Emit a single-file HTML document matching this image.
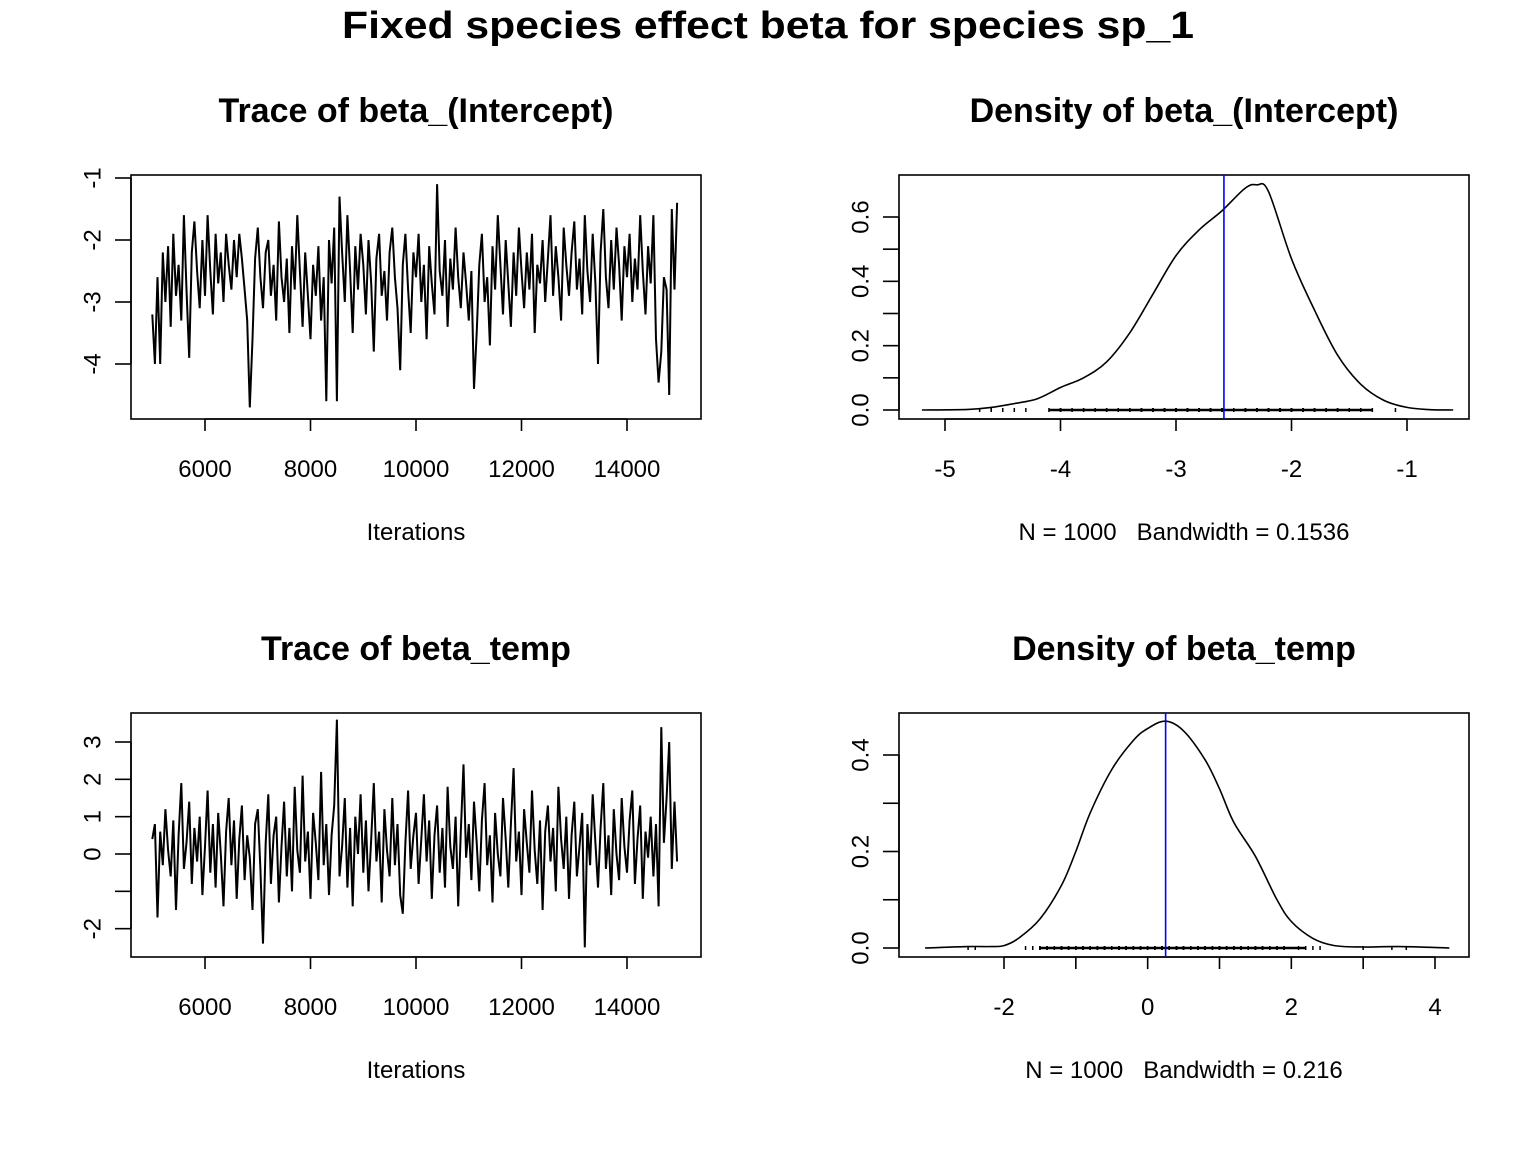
<!DOCTYPE html>
<html><head><meta charset="utf-8"><style>
html,body{margin:0;padding:0;background:#fff}
svg{display:block;font-family:"Liberation Sans",Arial,sans-serif}
</style></head><body>
<svg id="chart" width="1536" height="1152" viewBox="0 0 1536 1152" xmlns="http://www.w3.org/2000/svg">
<rect width="1536" height="1152" fill="#fff"/>
<text x="768" y="38" text-anchor="middle" font-size="38" font-weight="bold" textLength="852" lengthAdjust="spacingAndGlyphs">Fixed species effect beta for species sp_1</text>
</svg>
<script>
const iterStart = 5000, iterStep = 50;
const trace1 = [-3.2,-4.0,-2.6,-4.0,-2.2,-3.0,-2.1,-3.4,-1.9,-2.9,-2.4,-3.3,-1.6,-2.8,-3.9,-2.2,-1.7,-2.5,-3.1,-2.0,
-2.9,-1.6,-2.5,-3.2,-1.9,-2.7,-2.2,-3.0,-1.9,-2.4,-2.8,-2.0,-2.6,-1.9,-2.3,-2.8,-3.3,-4.7,-3.6,-2.3,
-1.8,-2.6,-3.1,-2.2,-2.0,-2.9,-2.4,-3.3,-1.7,-2.6,-3.0,-2.3,-3.5,-2.1,-2.8,-1.6,-2.5,-3.4,-2.2,-2.9,
-3.6,-2.4,-2.9,-2.1,-3.3,-2.6,-4.6,-2.0,-2.7,-1.8,-4.6,-1.3,-2.2,-3.0,-1.6,-2.5,-3.5,-2.1,-2.8,-1.9,
-2.4,-3.2,-2.0,-2.7,-3.8,-2.3,-1.9,-2.9,-2.5,-3.3,-2.2,-1.8,-2.6,-3.1,-4.1,-2.4,-1.9,-2.8,-3.5,-2.2,
-2.6,-1.9,-3.0,-2.4,-3.6,-2.1,-2.7,-3.2,-1.1,-2.5,-2.9,-2.0,-3.4,-2.3,-2.8,-1.8,-2.6,-3.1,-2.2,-2.7,
-3.3,-2.5,-4.4,-3.5,-2.4,-1.9,-3.0,-2.6,-3.7,-2.1,-2.8,-1.6,-2.4,-3.2,-2.0,-2.7,-3.4,-2.2,-2.9,-1.8,
-2.5,-3.1,-2.2,-2.8,-1.9,-3.5,-2.4,-2.7,-2.0,-3.0,-2.3,-1.6,-2.9,-2.1,-2.6,-3.3,-1.8,-2.4,-2.9,-2.2,
-1.7,-2.8,-2.3,-3.2,-1.6,-2.5,-3.0,-1.9,-2.7,-4.0,-2.2,-1.5,-2.6,-3.1,-2.0,-2.8,-1.8,-2.4,-3.3,-2.1,
-2.6,-1.9,-3.0,-2.3,-2.8,-1.6,-2.5,-3.2,-2.1,-2.7,-1.6,-3.6,-4.3,-3.8,-2.6,-2.8,-4.5,-1.5,-2.8,-1.4];
const trace2 = [0.4,0.8,-1.7,0.6,-0.3,1.2,0.1,-0.6,0.9,-1.5,0.5,1.9,-0.4,0.3,1.4,-0.8,0.7,-0.2,1.0,-1.1,
0.2,1.7,-0.5,0.8,-0.9,1.1,0.0,-1.4,0.6,1.5,-0.3,0.9,-1.2,0.4,1.3,-0.7,0.5,-0.1,-1.5,0.8,
1.2,-0.4,-2.4,0.3,1.6,-0.8,0.5,1.0,-1.3,0.2,1.4,-0.6,0.7,-1.0,1.8,0.1,-0.5,2.1,-0.2,0.6,
-1.2,1.1,0.3,-0.7,2.2,-0.3,0.8,-1.1,0.5,1.3,3.6,-0.6,0.2,1.5,-0.9,0.7,-1.4,1.0,0.0,1.6,
-0.5,0.9,-1.0,0.4,1.9,-0.2,0.6,-1.3,1.2,0.1,-0.6,1.5,-0.3,0.8,-1.1,-1.6,0.3,1.7,-0.4,0.5,
1.1,-0.8,0.4,1.6,-0.2,0.9,-1.2,0.5,1.3,-0.5,0.7,-0.9,1.8,0.2,-0.4,1.0,-1.4,0.6,2.4,-0.1,
0.8,-0.7,1.4,0.3,-1.0,0.9,1.9,-0.3,0.5,-1.3,1.1,0.0,-0.6,1.5,0.4,-0.9,0.8,2.3,-0.2,0.6,
-1.1,1.2,0.3,-0.5,1.7,0.1,-0.8,0.9,-1.5,0.6,1.3,-0.2,0.7,-1.0,1.8,0.4,-0.4,1.0,-1.2,0.5,
1.4,-0.6,0.2,1.1,-2.5,0.8,-0.3,1.6,0.3,-0.9,0.7,1.9,-0.4,0.5,-1.1,1.2,0.0,-0.7,1.5,0.2,
-0.5,0.9,1.7,-0.8,0.4,1.3,-1.2,0.6,-0.1,1.0,-0.6,0.8,-1.4,3.4,0.3,1.5,3.0,-0.4,1.4,-0.2];
const dens1X = [-5.2,-4.8,-4.6,-4.4,-4.2,-4.0,-3.8,-3.6,-3.4,-3.2,-3.0,-2.8,-2.6,-2.4,-2.3,-2.2,-2.0,-1.8,-1.6,-1.4,-1.2,-1.0,-0.8,-0.6];
const dens1Y = [0,0.002,0.008,0.02,0.035,0.07,0.1,0.15,0.24,0.36,0.48,0.56,0.62,0.69,0.70,0.68,0.47,0.31,0.17,0.08,0.03,0.008,0.001,0];
const dens2X = [-3.1,-2.5,-2.2,-2.0,-1.8,-1.5,-1.2,-1.0,-0.8,-0.5,-0.2,0.0,0.25,0.5,0.8,1.0,1.2,1.5,1.8,2.0,2.3,2.6,3.0,3.5,4.2];
const dens2Y = [0,0.003,0.003,0.005,0.02,0.06,0.13,0.2,0.28,0.37,0.43,0.455,0.47,0.45,0.39,0.33,0.26,0.19,0.1,0.055,0.02,0.005,0.002,0.003,0];
const mean1 = -2.585, mean2 = 0.25;
const traceXTicks = [6000,8000,10000,12000,14000];
const trace1YTicks = [-4,-3,-2,-1];
const trace2YTicks = [-2,-1,0,1,2,3];
const trace2YLabels = ["-2","","0","1","2","3"];
const dens1XTicks = [-5,-4,-3,-2,-1];
const dens1YTicks = [0,0.1,0.2,0.3,0.4,0.5,0.6];
const dens1YLabels = ["0.0","","0.2","","0.4","","0.6"];
const dens2XTicks = [-2,-1,0,1,2,3,4];
const dens2XLabels = ["-2","","0","","2","","4"];
const dens2YTicks = [0,0.1,0.2,0.3,0.4];
const dens2YLabels = ["0.0","","0.2","","0.4"];

const svg = document.getElementById('chart');
const NS = 'http://www.w3.org/2000/svg';
function mk(tag, attrs, parent){const e=document.createElementNS(NS,tag);for(const k in attrs)e.setAttribute(k,attrs[k]);(parent||svg).appendChild(e);return e;}
function lin(d0,d1,r0,r1){return v=>r0+(v-d0)*(r1-r0)/(d1-d0);}
function smoothPath(P){
  let d='M'+P[0][0].toFixed(1)+','+P[0][1].toFixed(1);
  for(let i=0;i<P.length-1;i++){
    const p0=P[Math.max(0,i-1)],p1=P[i],p2=P[i+1],p3=P[Math.min(P.length-1,i+2)];
    const c1=[p1[0]+(p2[0]-p0[0])/6,p1[1]+(p2[1]-p0[1])/6];
    const c2=[p2[0]-(p3[0]-p1[0])/6,p2[1]-(p3[1]-p1[1])/6];
    d+=` C${c1[0].toFixed(1)},${c1[1].toFixed(1)} ${c2[0].toFixed(1)},${c2[1].toFixed(1)} ${p2[0].toFixed(1)},${p2[1].toFixed(1)}`;
  }
  return d;
}

function panel(p){
  const g = mk('g',{});
  
  
  const t = mk('text',{x:(p.x0+p.x1)/2,y:p.y0-53,'text-anchor':'middle','font-size':34,'font-weight':'bold'},g);
  t.textContent = p.title;
  
  
  const box = mk('rect',{x:p.x0,y:p.y0,width:p.x1-p.x0,height:p.y1-p.y0,fill:'none',stroke:'#000','stroke-width':1.6},g);
  
  
  const xa = mk('g',{},g);
  
  
  mk('line',{x1:p.sx(p.xt[0]),x2:p.sx(p.xt[p.xt.length-1]),y1:p.y1,y2:p.y1,stroke:'#000','stroke-width':1.6},xa);
  p.xt.forEach((v,i)=>{
    const X=p.sx(v);
    mk('line',{x1:X,x2:X,y1:p.y1,y2:p.y1+12,stroke:'#000','stroke-width':1.6},xa);
    const lab = p.xl ? p.xl[i] : String(v);
    if(lab){const tx=mk('text',{x:X,y:p.y1+58,'text-anchor':'middle','font-size':24},xa);tx.textContent=lab;
      
      }
  });
  const xl = mk('text',{x:(p.x0+p.x1)/2,y:p.y1+121,'text-anchor':'middle','font-size':24,'xml:space':'preserve',style:'white-space:pre'},g);
  xl.textContent = p.xlabel;
  
  
  const ya = mk('g',{},g);
  
  
  mk('line',{x1:p.x0,x2:p.x0,y1:p.sy(p.yt[0]),y2:p.sy(p.yt[p.yt.length-1]),stroke:'#000','stroke-width':1.6},ya);
  p.yt.forEach((v,i)=>{
    const Y=p.sy(v);
    mk('line',{x1:p.x0-16,x2:p.x0,y1:Y,y2:Y,stroke:'#000','stroke-width':1.6},ya);
    const lab = p.yl ? p.yl[i] : String(v);
    if(lab){const tx=mk('text',{x:p.x0-38,y:Y,'text-anchor':'middle','font-size':24,transform:`rotate(-90 ${p.x0-38} ${Y})`,'dominant-baseline':'central'},ya);tx.textContent=lab;
      
      }
  });
  return g;
}

{
  const sx=lin(6000,14000,205,627), sy=lin(-1,-4,178,364);
  const g=panel({name:'trace-intercept-panel',title:'Trace of beta_(Intercept)',x0:131,x1:701,y0:175,y1:419,sx,sy,xt:traceXTicks,yt:trace1YTicks,xlabel:'Iterations'});
  const pts=trace1.map((v,i)=>sx(iterStart+i*iterStep).toFixed(1)+','+sy(v).toFixed(1)).join(' ');
  const l=mk('polyline',{points:pts,fill:'none',stroke:'#000','stroke-width':2},g);
  
  
}
{
  const sx=lin(-5,-1,945,1407), sy=lin(0,0.6,410,217);
  const g=panel({name:'density-intercept-panel',title:'Density of beta_(Intercept)',x0:899,x1:1469,y0:175,y1:419,sx,sy,xt:dens1XTicks,yt:dens1YTicks,yl:dens1YLabels,xlabel:'N = 1000   Bandwidth = 0.1536'});
  const l=mk('path',{d:smoothPath(dens1X.map((v,i)=>[sx(v),sy(dens1Y[i])])),fill:'none',stroke:'#000','stroke-width':1.6},g);
  
  
  const rug=mk('g',{stroke:'#000','stroke-width':1.5},g);
  
  
  trace1.forEach(v=>mk('line',{x1:sx(v),x2:sx(v),y1:sy(0)-2,y2:sy(0)+2},rug));
  mk('line',{x1:sx(-4.1),x2:sx(-1.3),y1:sy(0),y2:sy(0),'stroke-width':2.5},rug);
  const m=mk('line',{x1:sx(mean1),x2:sx(mean1),y1:175,y2:419,stroke:'#0000ff','stroke-width':1.6},g);
  
  
}
{
  const sx=lin(6000,14000,205,627), sy=lin(0,3,854,742);
  const g=panel({name:'trace-temp-panel',title:'Trace of beta_temp',x0:131,x1:701,y0:713,y1:957,sx,sy,xt:traceXTicks,yt:trace2YTicks,yl:trace2YLabels,xlabel:'Iterations'});
  const pts=trace2.map((v,i)=>sx(iterStart+i*iterStep).toFixed(1)+','+sy(v).toFixed(1)).join(' ');
  const l=mk('polyline',{points:pts,fill:'none',stroke:'#000','stroke-width':2},g);
  
  
}
{
  const sx=lin(-2,4,1004,1435), sy=lin(0,0.4,948,755);
  const g=panel({name:'density-temp-panel',title:'Density of beta_temp',x0:899,x1:1469,y0:713,y1:957,sx,sy,xt:dens2XTicks,xl:dens2XLabels,yt:dens2YTicks,yl:dens2YLabels,xlabel:'N = 1000   Bandwidth = 0.216'});
  const l=mk('path',{d:smoothPath(dens2X.map((v,i)=>[sx(v),sy(dens2Y[i])])),fill:'none',stroke:'#000','stroke-width':1.6},g);
  
  
  const rug=mk('g',{stroke:'#000','stroke-width':1.5},g);
  
  
  trace2.forEach(v=>mk('line',{x1:sx(v),x2:sx(v),y1:sy(0)-2,y2:sy(0)+2},rug));
  mk('line',{x1:sx(-1.5),x2:sx(2.2),y1:sy(0),y2:sy(0),'stroke-width':2.5},rug);
  const m=mk('line',{x1:sx(mean2),x2:sx(mean2),y1:713,y2:957,stroke:'#0000ff','stroke-width':1.6},g);
  
  
}
</script>
</body></html>
